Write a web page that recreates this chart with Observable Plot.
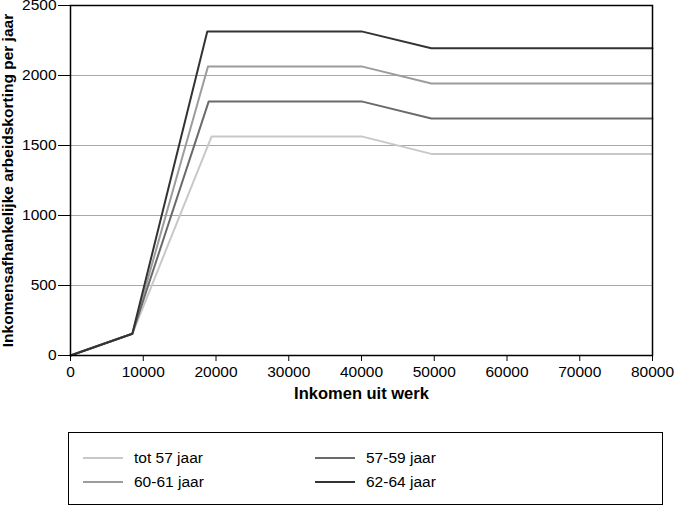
<!DOCTYPE html>
<html>
<head>
<meta charset="utf-8">
<script src="https://cdn.jsdelivr.net/npm/d3@7"></script>
<script src="https://cdn.jsdelivr.net/npm/@observablehq/plot@0.6"></script>
<style>
  body { margin: 0; background: #fff; font-family: "Liberation Sans", Arial, sans-serif; }
  #wrap { position: relative; width: 675px; height: 507px; }
  #legend { position: absolute; left: 68px; top: 432px; width: 595px; height: 73px; border: 1.5px solid #000; box-sizing: border-box; font-size: 15.5px; color: #000; }
  .item { position: absolute; display: flex; align-items: center; }
  .sw { width: 40px; height: 2px; margin-right: 11px; }
</style>
</head>
<body>
<div id="wrap"><div id="chart"></div><div id="legend"></div></div>
<script>
const series = ["tot 57 jaar", "57-59 jaar", "60-61 jaar", "62-64 jaar"];
const colors = ["#c8c8c8", "#6a6a6a", "#9c9c9c", "#333333"];
const income_tot57 = [0, 8500, 19400, 40000, 49600, 80000];
const korting_tot57 = [0, 155, 1565, 1565, 1440, 1440];
const income_5759 = [0, 8500, 19000, 40000, 49600, 80000];
const korting_5759 = [0, 155, 1815, 1815, 1693, 1693];
const income_6061 = [0, 8500, 18900, 40000, 49600, 80000];
const korting_6061 = [0, 155, 2065, 2065, 1943, 1943];
const income_6264 = [0, 8500, 18800, 40000, 49600, 80000];
const korting_6264 = [0, 155, 2315, 2315, 2195, 2195];
const xTicks = [0, 10000, 20000, 30000, 40000, 50000, 60000, 70000, 80000];
const yTicks = [0, 500, 1000, 1500, 2000, 2500];

const incomes = [income_tot57, income_5759, income_6061, income_6264];
const kortingen = [korting_tot57, korting_5759, korting_6061, korting_6264];
const data = [];
series.forEach((s, i) => incomes[i].forEach((x, j) => data.push({series: s, x, y: kortingen[i][j]})));
// drawing order: light to dark
const drawOrder = ["tot 57 jaar", "60-61 jaar", "57-59 jaar", "62-64 jaar"];

const chart = Plot.plot({
  width: 675,
  height: 420,
  marginTop: 5,
  marginLeft: 70,
  marginRight: 23,
  marginBottom: 65,
  style: {fontFamily: "'Liberation Sans', Arial, sans-serif", fontSize: "15.5px", color: "#000", background: "#fff", overflow: "visible"},
  x: {domain: [0, 80000]},
  y: {domain: [0, 2500]},
  color: {domain: series, range: colors},
  marks: [
    Plot.gridY(yTicks.filter(d => d > 0 && d < 2500), {stroke: "#a8a8a8", strokeOpacity: 1, strokeWidth: 1}),
    ...drawOrder.map(s => Plot.line(data.filter(d => d.series === s), {x: "x", y: "y", stroke: colors[series.indexOf(s)], strokeWidth: 2})),
    Plot.frame({stroke: "#000", strokeWidth: 1.5}),
    Plot.axisX(xTicks, {tickSize: 6, tickPadding: 4, tickFormat: d => String(d), label: null, fontSize: 15.5}),
    Plot.axisY(yTicks, {tickSize: 12, tickPadding: 2, tickFormat: d => String(d), label: null, fontSize: 15.5}),
    Plot.text(["Inkomen uit werk"], {x: 40000, frameAnchor: "bottom", dy: 43, fontWeight: "bold", fontSize: 16.5, text: d => d}),
    Plot.text(["Inkomensafhankelijke arbeidskorting per jaar"], {frameAnchor: "left", textAnchor: "middle", dx: -62, rotate: -90, fontWeight: "bold", fontSize: 15.5, text: d => d})
  ]
});
document.getElementById("chart").appendChild(chart);

const legend = document.getElementById("legend");
const positions = [[14, 26], [246, 26], [14, 50], [246, 50]];
series.forEach((s, i) => {
  const it = document.createElement("div");
  it.className = "item";
  it.style.left = positions[i][0] + "px";
  it.style.top = (positions[i][1] - 10) + "px";
  it.innerHTML = `<div class="sw" style="background:${colors[i]}"></div><span>${s}</span>`;
  legend.appendChild(it);
});
</script>
</body>
</html>
